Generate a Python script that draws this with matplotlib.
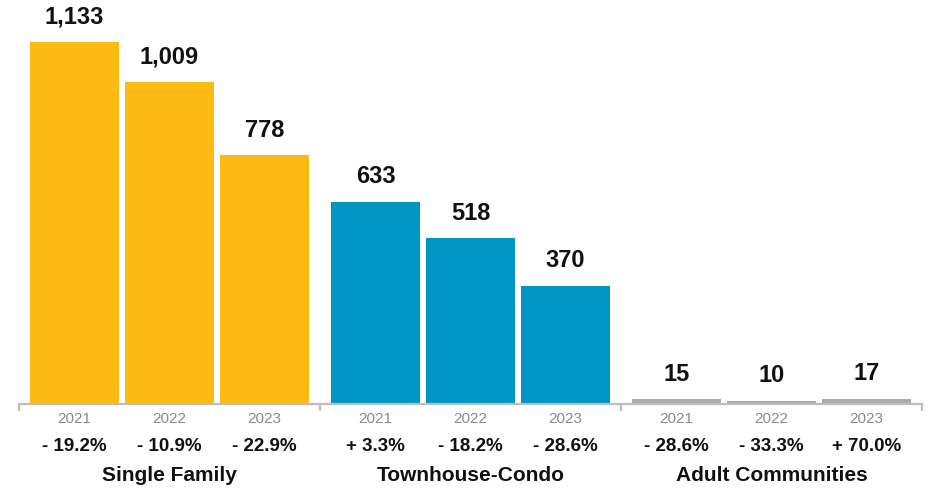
import matplotlib
matplotlib.use("Agg")
import matplotlib.pyplot as plt
from matplotlib.transforms import blended_transform_factory

plt.rcParams['font.family'] = ['Liberation Sans', 'DejaVu Sans']

groups = ["Single Family", "Townhouse-Condo", "Adult Communities"]
years = ["2021", "2022", "2023"]
values = [
    [1133, 1009, 778],
    [633, 518, 370],
    [15, 10, 17],
]
changes = [
    ["- 19.2%", "- 10.9%", "- 22.9%"],
    ["+ 3.3%", "- 18.2%", "- 28.6%"],
    ["- 28.6%", "- 33.3%", "+ 70.0%"],
]
colors = ["#FCBA12", "#0096C4", "#ABABAB"]

W, H = 930, 490
fig = plt.figure(figsize=(W / 100, H / 100), dpi=100)
ax = fig.add_axes([19 / W, (H - 404) / H, 903 / W, 404 / H])
ax.set_xlim(0, 3)
ax.set_ylim(0, 1264)

pitch = 0.3156
width = 0.296
axis_grey = "#BDBDBD"

ylab_tr = blended_transform_factory(ax.transData, fig.transFigure)

for g, grp in enumerate(groups):
    for i in range(3):
        x = g + 0.5 + (i - 1) * pitch
        v = values[g][i]
        ax.bar(x, v, width=width, color=colors[g], linewidth=0)
        ax.annotate(f"{v:,}", (x, v), xytext=(0, 18), textcoords="offset points",
                    ha="center", va="center", fontsize=17, fontweight="bold",
                    color="#111111")
        ax.text(x, 1 - 419 / H, years[i], transform=ylab_tr, ha="center",
                va="center", fontsize=11, color="#8A8A8A")
        ax.text(x, 1 - 446 / H, changes[g][i], transform=ylab_tr, ha="center",
                va="center", fontsize=13.5, fontweight="bold", color="#111111")
    ax.text(g + 0.5, 1 - 475 / H, grp, transform=ylab_tr, ha="center",
            va="center", fontsize=15, fontweight="bold", color="#111111")

for side in ["left", "right", "top"]:
    ax.spines[side].set_visible(False)
ax.spines["bottom"].set_color(axis_grey)
ax.spines["bottom"].set_linewidth(1.6)
ax.set_yticks([])
ax.set_xticks([0, 1, 2, 3])
ax.set_xticklabels([])
ax.tick_params(axis="x", length=5, width=1.6, color=axis_grey)
ax.set_facecolor("none")

fig.savefig("out.png", dpi=100)
